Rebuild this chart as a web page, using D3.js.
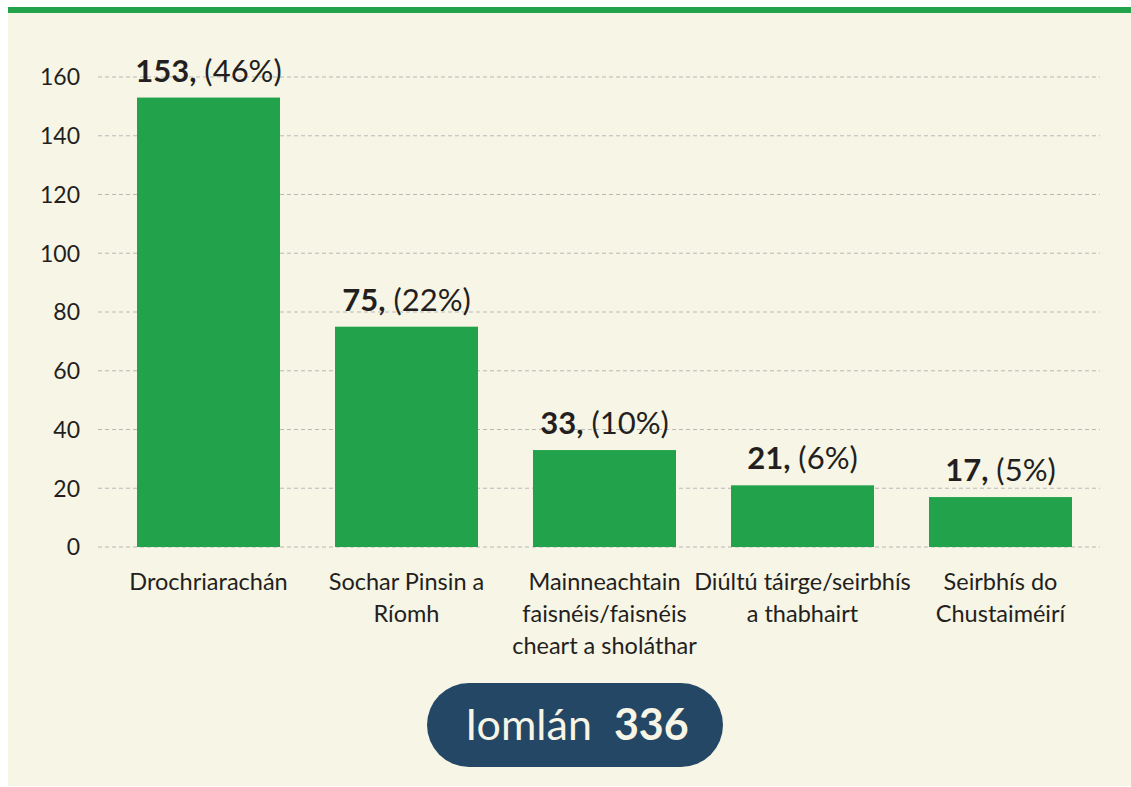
<!DOCTYPE html>
<html><head><meta charset="utf-8">
<script src="https://cdn.jsdelivr.net/npm/d3@7"></script>
<style>html,body{margin:0;padding:0;background:#fff;}svg{display:block;font-family:Lato,"Open Sans",sans-serif;}</style>
</head><body>
<svg id="c" width="1131" height="787"></svg>
<script>
const categories = [
  ["Drochriarachán"],
  ["Sochar Pinsin a", "Ríomh"],
  ["Mainneachtain", "faisnéis/faisnéis", "cheart a sholáthar"],
  ["Diúltú táirge/seirbhís", "a thabhairt"],
  ["Seirbhís do", "Chustaiméirí"]
];
const values = [153, 75, 33, 21, 17];
const percents = ["46%", "22%", "10%", "6%", "5%"];
const yTicks = [0, 20, 40, 60, 80, 100, 120, 140, 160];
const totalLabel = "Iomlán";
const totalValue = 336;

const svg = d3.select("#c");
svg.append("rect").attr("x", 8).attr("y", 8).attr("width", 1123).attr("height", 778).attr("fill", "#f7f5e5");
svg.append("rect").attr("x", 8).attr("y", 7).attr("width", 1123).attr("height", 6).attr("fill", "#22a34b");

const x = d3.scaleBand().domain(d3.range(values.length)).range([109.5, 1099.5]).paddingInner(55/198).paddingOuter(27.5/198);
const y = d3.scaleLinear().domain([0, 160]).range([547, 77]);

const grid = svg.append("g");
grid.selectAll("line").data(yTicks).join("line")
  .attr("x1", 98).attr("x2", 1100)
  .attr("y1", d => y(d)).attr("y2", d => y(d))
  .attr("stroke", "#b9b9b9").attr("stroke-width", 1.2).attr("stroke-dasharray", "4,3");

const yAxis = d3.axisLeft(y).tickValues(yTicks).tickSize(0).tickPadding(0);
const ga = svg.append("g").attr("transform", "translate(80,0)").call(yAxis);
ga.select(".domain").remove();
ga.selectAll("text").attr("font-size", 23).attr("fill", "#231f20").attr("font-family", "Lato, sans-serif").attr("dy", "0.34em");

svg.append("g").selectAll("rect").data(values).join("rect")
  .attr("x", (d, i) => x(i)).attr("width", x.bandwidth())
  .attr("y", d => y(d)).attr("height", d => y(0) - y(d))
  .attr("fill", "#22a34b");

const lab = svg.append("g").selectAll("text").data(values).join("text")
  .attr("x", (d, i) => x(i) + x.bandwidth() / 2)
  .attr("y", d => y(d) - 16)
  .attr("text-anchor", "middle").attr("font-size", 31).attr("fill", "#231f20");
lab.append("tspan").attr("font-weight", "bold").text(d => d + ",");
lab.append("tspan").text((d, i) => " (" + percents[i] + ")");

const cl = svg.append("g").selectAll("text").data(categories).join("text")
  .attr("x", (d, i) => x(i) + x.bandwidth() / 2)
  .attr("y", 590)
  .attr("text-anchor", "middle").attr("font-size", 23.5).attr("fill", "#231f20");
cl.selectAll("tspan").data(d => d).join("tspan")
  .attr("x", function() { return d3.select(this.parentNode).attr("x"); })
  .attr("dy", (d, j) => j === 0 ? 0 : 32)
  .text(d => d);

const pill = svg.append("g");
pill.append("rect").attr("x", 427).attr("y", 683).attr("width", 296).attr("height", 84).attr("rx", 42).attr("fill", "#244766");
const pt = pill.append("text").attr("x", 577).attr("y", 740).attr("text-anchor", "middle").attr("font-size", 43).attr("fill", "#f7f5e5");
pt.append("tspan").text(totalLabel + "  ").attr("xml:space", "preserve");
pt.append("tspan").attr("font-weight", "bold").text(totalValue);
</script>
</body></html>
